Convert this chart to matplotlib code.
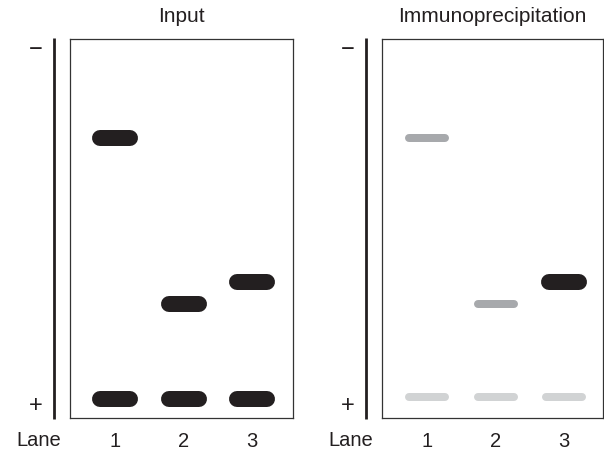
import matplotlib
matplotlib.use("Agg")
import matplotlib.pyplot as plt

plt.rcParams['font.family'] = ['Liberation Sans', 'DejaVu Sans']

# ---- data ----
panel_titles = ["Input", "Immunoprecipitation"]
lanes = [1, 2, 3]
lane_labels = ["1", "2", "3"]
# migration distance (0 = well / top, 100 = bottom of gel)
input_lane = [1, 1, 2, 2, 3, 3]
input_pos = [26, 95, 70, 95, 64, 95]
input_intensity = [1.0, 1.0, 1.0, 1.0, 1.0, 1.0]

ip_lane = [1, 1, 2, 2, 3, 3]
ip_pos = [26, 94.5, 70, 94.5, 64, 94.5]
ip_intensity = [0.4, 0.2, 0.4, 0.2, 1.0, 0.2]

DARK = "#231f20"
MID = "#a7a9ac"
LIGHT = "#d1d3d4"


def band_style(intensity):
    if intensity >= 0.9:
        return DARK, 16, 15   # color, thickness px, half-length px (excl cap)
    if intensity >= 0.3:
        return MID, 8, 18
    return LIGHT, 8, 18


fig = plt.figure(figsize=(6.04, 4.54), dpi=100)
W, H = 604, 454
lane_px = 68.5

panels = [
    (70, 293, input_lane, input_pos, input_intensity),
    (382, 603, ip_lane, ip_pos, ip_intensity),
]
top, bottom = 39, 418

for i, (x0, x1, bl, bp, bi) in enumerate(panels):
    ax = fig.add_axes([x0 / W, (H - bottom) / H, (x1 - x0) / W, (bottom - top) / H])
    width_units = (x1 - x0) / lane_px
    left = 1 - 45 / lane_px
    ax.set_xlim(left, left + width_units)
    ax.set_ylim(100, 0)
    for sp in ax.spines.values():
        sp.set_linewidth(0.9)
        sp.set_color("#333333")
    for ln, pos, inten in zip(bl, bp, bi):
        col, thick, half = band_style(inten)
        hl = half / lane_px
        ax.plot([ln - hl, ln + hl], [pos, pos], color=col, lw=thick * 0.72,
                solid_capstyle='round')
    ax.set_xticks(lanes)
    ax.set_xticklabels(lane_labels, fontsize=14.5)
    ax.tick_params(axis='x', length=0, pad=10, colors='#231f20')
    ax.set_yticks([])
    ax.set_title(panel_titles[i], fontsize=15, pad=12, color='#231f20')
    w = x1 - x0
    h = bottom - top
    # electrophoresis direction bar
    bx = (x0 - 16 - x0) / w
    ax.plot([bx, bx], [-0.003, 1.0026], transform=ax.transAxes, color=DARK, lw=2.0,
            clip_on=False, solid_capstyle='butt')
    ax.text((x0 - 34 - x0) / w, (bottom - 50) / h, "\u2212", transform=ax.transAxes,
            ha='center', va='center', fontsize=17, color=DARK)
    ax.text((x0 - 34 - x0) / w, (bottom - 406) / h, "+", transform=ax.transAxes,
            ha='center', va='center', fontsize=17, color=DARK)
    ax.text((x0 - 31 - x0) / w, (bottom - 441) / h, "Lane", transform=ax.transAxes,
            ha='center', va='center', fontsize=14.5, color=DARK)

fig.savefig("out.png", dpi=100)
